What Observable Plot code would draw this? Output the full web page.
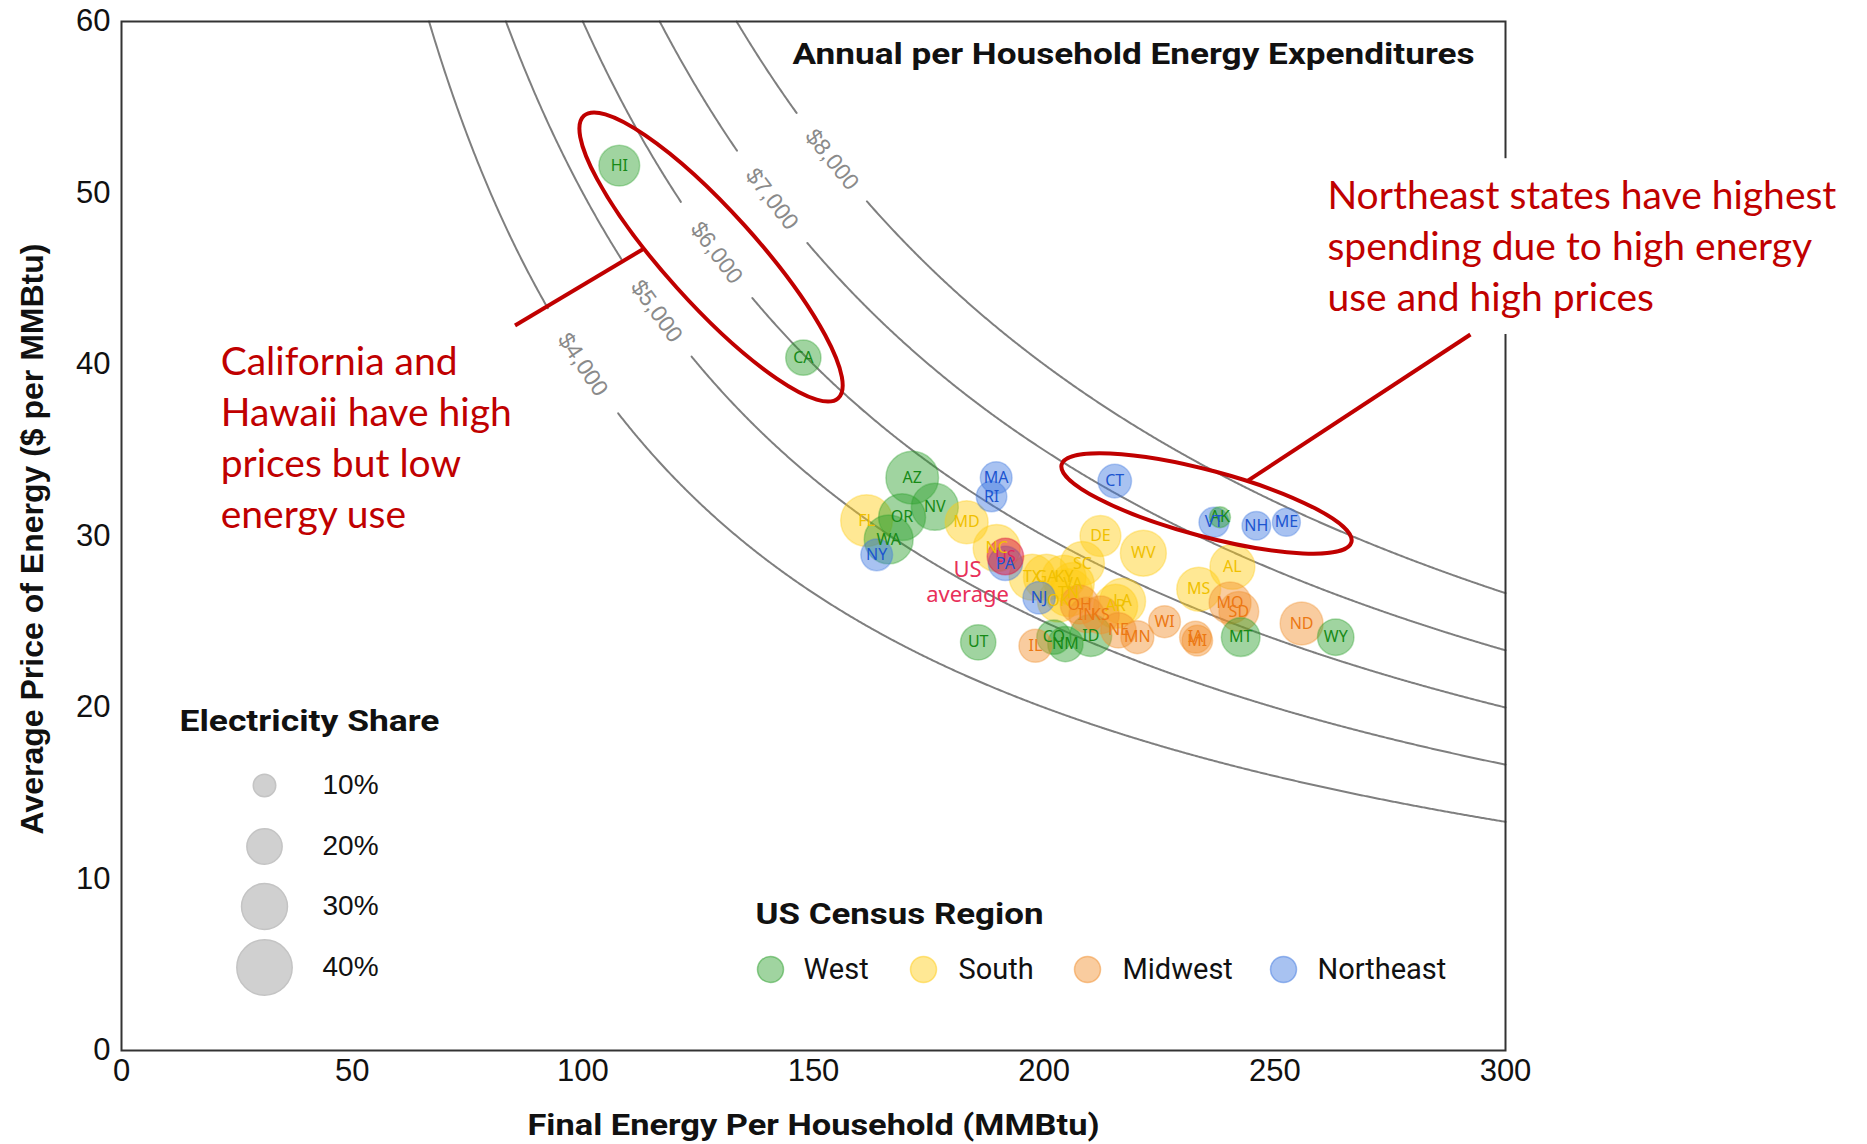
<!DOCTYPE html>
<html><head><meta charset="utf-8">
<script src="https://cdn.jsdelivr.net/npm/d3@7"></script>
<script src="https://cdn.jsdelivr.net/npm/@observablehq/plot@0.6"></script>
<style>body{margin:0;background:#fff}svg{display:block}</style>
</head><body><div id="chart"></div>
<script>
// ---------- data ----------
const states = ["HI","CA","AZ","NV","OR","WA","UT","CO","NM","ID","MT","WY","AK",
  "FL","MD","NC","TX","GA","KY","VA","TN","OK","LA","SC","DE","WV","AR","AL","MS",
  "OH","IN","KS","NE","MN","WI","IL","IA","MI","MO","SD","ND",
  "NY","MA","RI","PA","NJ","CT","VT","NH","ME"];
const regions = ["West","West","West","West","West","West","West","West","West","West","West","West","West",
  "South","South","South","South","South","South","South","South","South","South","South","South","South","South","South","South",
  "Midwest","Midwest","Midwest","Midwest","Midwest","Midwest","Midwest","Midwest","Midwest","Midwest","Midwest","Midwest",
  "Northeast","Northeast","Northeast","Northeast","Northeast","Northeast","Northeast","Northeast","Northeast"];
const energy = [107.9,147.8,171.4,176.3,169.2,166.3,185.7,202.1,204.6,210.1,242.6,263.2,238.1,
  161.5,183.2,189.7,197.4,200.5,204.3,206.2,205.3,203.1,217.0,208.3,212.2,221.5,215.5,240.8,233.5,
  207.7,209.2,212.2,216.1,220.2,226.1,198.1,232.8,233.2,240.3,242.2,255.8,
  163.7,189.6,188.6,191.6,198.9,215.3,236.8,246.0,252.5];
const price = [51.6,40.4,33.4,31.7,31.1,29.8,23.8,24.1,23.7,24.2,24.1,24.1,31.1,
  30.9,30.8,29.3,27.6,27.6,27.6,27.2,26.7,26.2,26.2,28.4,30.0,29.0,25.9,28.2,26.9,
  26.0,25.4,25.4,24.5,24.1,25.0,23.6,24.1,23.9,26.1,25.6,24.9,
  28.9,33.4,32.3,28.4,26.4,33.2,30.8,30.6,30.8];
const elecShare = [0.25,0.20,0.37,0.31,0.31,0.33,0.20,0.19,0.20,0.26,0.23,0.21,0.09,
  0.36,0.27,0.31,0.30,0.30,0.28,0.27,0.32,0.26,0.30,0.28,0.25,0.30,0.28,0.29,0.28,
  0.23,0.20,0.22,0.20,0.18,0.17,0.18,0.17,0.16,0.26,0.24,0.27,
  0.17,0.17,0.16,0.19,0.175,0.185,0.155,0.145,0.14];
const usAverage = {label:"US", energy:191.6, price:28.8, share:0.21};

const regionNames = ["West","South","Midwest","Northeast"];
const regionFill = ["#2ca02c","#ffcc11","#f28e2b","#3f77e0"];
const regionText = ["#178a17","#f0c000","#ec7813","#1c55d0"];

const levels = [4000,5000,6000,7000,8000];
const levelLabels = ["$4,000","$5,000","$6,000","$7,000","$8,000"];
const levelLabelAt = [100,116,129,141,154];

const xTicks = [0,50,100,150,200,250,300];
const yTicks = [0,10,20,30,40,50,60];
const shareLegend = [0.1,0.2,0.3,0.4];
const shareLegendLabels = ["10%","20%","30%","40%"];

// ---------- layout ----------
const W=1867,H=1144,ML=121,MR=362,MT=21,MB=94;
const X = d3.scaleLinear([0,300],[ML,W-MR]);
const Y = d3.scaleLinear([0,60],[H-MB,MT]);
const kX = (W-MR-ML)/300, kY = (H-MB-MT)/60;
const RED = "#c00000";

const rows = states.map((s,i)=>({state:s, region:regions[i], energy:energy[i], price:price[i], share:elecShare[i]}));
const fillOf = r => regionFill[regionNames.indexOf(r)];
const textOf = r => regionText[regionNames.indexOf(r)];

// iso-expenditure curves y = E / x, broken where the label sits
const gapHalf = 7.5;
const contour = [];
levels.forEach((E,i)=>{
  const xs = d3.range(E/60, 300, 0.25).concat([300]);
  for (const x of xs) {
    if (Math.abs(x-levelLabelAt[i]) <= gapHalf) continue;
    contour.push({x, y:E/x, key:E+(x<levelLabelAt[i]?"a":"b")});
  }
});
const angleAt = (E,x)=>Math.atan(E/(x*x)*kY/kX)*180/Math.PI;

// annotation geometry (data units for anchors)
const ellipses = [
  {x:127.9, y:46.24, rx:190, ry:46, angle:48},
  {x:235.3, y:31.87, rx:150, ry:33, angle:15}
];
const leaders = [
  {x1:85.3, y1:42.27, x2:113.2, y2:46.75},
  {x1:292.4, y1:41.75, x2:244.0, y2:33.2}
];
const noteCA = "California and\nHawaii have high\nprices but low\nenergy use";
const noteNE = "Northeast states have highest\nspending due to high energy\nuse and high prices";

function ellipseMark(index, scales){
  const g = d3.create("svg:g");
  for (const e of ellipses){
    const cx = scales.x(e.x), cy = scales.y(e.y);
    g.append("ellipse").attr("cx",cx).attr("cy",cy).attr("rx",e.rx).attr("ry",e.ry)
      .attr("transform",`rotate(${e.angle} ${cx} ${cy})`)
      .attr("fill","none").attr("stroke",RED).attr("stroke-width",4);
  }
  return g.node();
}

const legX = X.invert(264), legLabX = X.invert(322);
const legY = [785,846,906,967].map(v=>Y.invert(v));
const regLegY = Y.invert(969);
const regDotX = [770,923,1087,1283].map(v=>X.invert(v));
const regLabX = [803,958,1122,1317].map(v=>X.invert(v));

const chart = Plot.plot({
  width:W, height:H, marginLeft:ML, marginRight:MR, marginTop:MT, marginBottom:MB,
  style:{fontFamily:"'Liberation Sans', Arial, sans-serif", fontSize:"31px", color:"#111", background:"#fff", overflow:"visible"},
  x:{domain:[0,300]}, y:{domain:[0,60]},
  r:{type:"pow", exponent:0.65, domain:[0,0.4], range:[0,27.7]},
  marks:[
    Plot.line(contour,{x:"x",y:"y",z:"key",stroke:"#7f7f7f",strokeWidth:2}),
    Plot.text(levels,{x:(E,i)=>levelLabelAt[i], y:(E,i)=>E/levelLabelAt[i], text:(E,i)=>levelLabels[i],
      rotate:(E,i)=>angleAt(E,levelLabelAt[i]), fill:"#8a8a8a", fontSize:23, fontFamily:"'Liberation Sans', Arial"}),
    Plot.frame({stroke:"#333", strokeWidth:2}),
    Plot.axisX({ticks:xTicks, tickSize:0, tickPadding:8, label:null}),
    Plot.axisY({ticks:yTicks, tickSize:0, tickPadding:11, label:null}),
    // white box for the Northeast note
    Plot.rect([{x1:261, x2:377, y1:41.75, y2:52.0}],{x1:"x1",x2:"x2",y1:"y1",y2:"y2",fill:"#fff"}),
    // bubbles
    Plot.dot(rows,{x:"energy", y:"price", r:"share", fill:d=>fillOf(d.region), fillOpacity:0.45,
      stroke:d=>fillOf(d.region), strokeOpacity:0.35, strokeWidth:1.5}),
    Plot.dot([usAverage],{x:"energy", y:"price", r:"share", fill:"#dc143c", fillOpacity:0.5, stroke:"#dc143c", strokeOpacity:0.4}),
    Plot.text([usAverage],{x:"energy", y:"price", text:"label", fill:"#e0245e", fontSize:16, fontFamily:"'Noto Sans', sans-serif"}),
    Plot.text(rows,{x:"energy", y:"price", text:"state", fill:d=>textOf(d.region), fontSize:16, fontFamily:"'Noto Sans', sans-serif"}),
    Plot.text(["US\naverage"],{x:183.4, y:27.36, fill:"#e8305a", fontSize:22, lineHeight:1.15, fontFamily:"'Noto Sans', sans-serif"}),
    // annotations
    ellipseMark,
    Plot.link(leaders,{x1:"x1",y1:"y1",x2:"x2",y2:"y2",stroke:RED,strokeWidth:4}),
    Plot.text([noteCA],{x:21.5, y:35.9, textAnchor:"start", lineAnchor:"middle", lineHeight:1.31, fill:RED, fontSize:39, fontFamily:"Lato, sans-serif"}),
    Plot.text([noteNE],{x:261.4, y:47.05, textAnchor:"start", lineAnchor:"middle", lineHeight:1.31, fill:RED, fontSize:39, fontFamily:"Lato, sans-serif"}),
    // titles
    Plot.text(["Annual per Household Energy Expenditures"],{frameAnchor:"top-right", dx:-31, dy:33, textAnchor:"end", lineAnchor:"middle", fontWeight:"bold", fontSize:30, fontFamily:"Roboto, sans-serif", fill:"#111"}),
    Plot.text(["Final Energy Per Household (MMBtu)"],{frameAnchor:"bottom", dy:75, lineAnchor:"middle", fontWeight:"bold", fontSize:30, fontFamily:"Roboto, sans-serif", fill:"#111"}),
    Plot.text(["Average Price of Energy ($ per MMBtu)"],{frameAnchor:"left", dx:-89, dy:3, rotate:-90, textAnchor:"middle", lineAnchor:"middle", fontWeight:"bold", fontSize:32, fontFamily:"'Liberation Sans', Arial", fill:"#111"}),
    // size legend
    Plot.text(["Electricity Share"],{x:X.invert(179), y:Y.invert(721), textAnchor:"start", fontWeight:"bold", fontSize:30, fontFamily:"Roboto, sans-serif", fill:"#111"}),
    Plot.dot(shareLegend,{x:legX, y:(d,i)=>legY[i], r:d=>d, fill:"#d0d0d0", stroke:"#c4c4c4", strokeWidth:1.5}),
    Plot.text(shareLegend,{x:legLabX, y:(d,i)=>legY[i], text:(d,i)=>shareLegendLabels[i], textAnchor:"start", fontSize:28, fill:"#111"}),
    // region legend
    Plot.text(["US Census Region"],{x:X.invert(755), y:Y.invert(914), textAnchor:"start", fontWeight:"bold", fontSize:30, fontFamily:"Roboto, sans-serif", fill:"#111"}),
    Plot.dot(regionNames,{x:(d,i)=>regDotX[i], y:regLegY, r:13, fill:(d,i)=>regionFill[i], fillOpacity:0.45, stroke:(d,i)=>regionFill[i], strokeOpacity:0.5, strokeWidth:1.5}),
    Plot.text(regionNames,{x:(d,i)=>regLabX[i], y:regLegY, text:d=>d, textAnchor:"start", fontSize:29, fontFamily:"Roboto, sans-serif", fill:"#111"})
  ]
});
document.getElementById("chart").append(chart);

// fit a few heavy titles to the reference widths
const fit = {"Annual per Household Energy Expenditures":682, "Final Energy Per Household (MMBtu)":572,
  "Electricity Share":260, "US Census Region":288};
d3.select(chart).selectAll("text").each(function(){
  const t = this.textContent;
  if (fit[t] && !this.querySelector("tspan")) { this.setAttribute("textLength", fit[t]); this.setAttribute("lengthAdjust","spacingAndGlyphs"); }
});
</script>
</body></html>
